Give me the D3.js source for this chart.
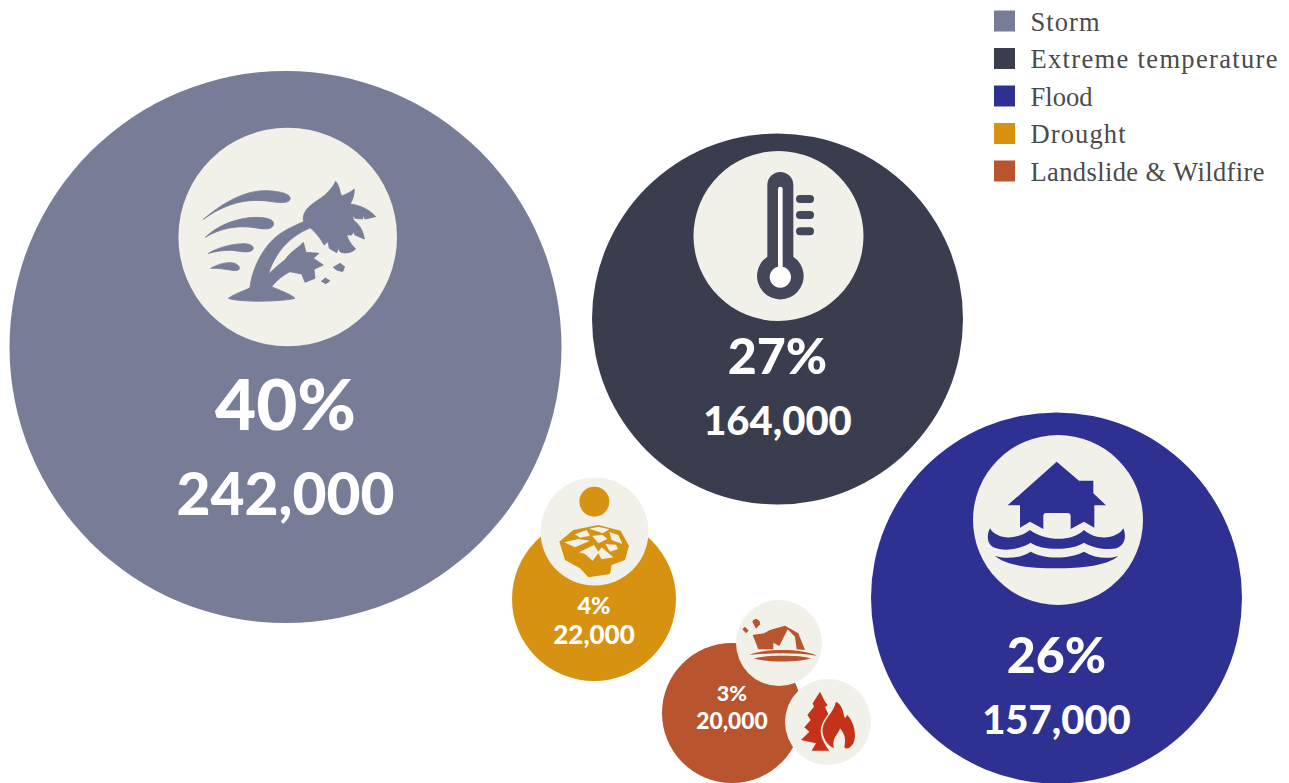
<!DOCTYPE html>
<html><head><meta charset="utf-8">
<script src="https://cdn.jsdelivr.net/npm/d3@7"></script>
<style>html,body{margin:0;background:#fff}svg{display:block}</style></head>
<body><svg id="c" width="1289" height="783"></svg>
<script>
const categories=["Storm","Extreme temperature","Flood","Drought","Landslide & Wildfire"];
const percents=[40,27,26,4,3];
const deaths=[242000,164000,157000,22000,20000];
const colours=["#787d97","#3a3d4e","#2e3092","#d69210","#b8552f"];
const cream="#f1f0e9";

// Layout scales: value to radius, category to centre
const rScale=d3.scaleLinear().domain([20000,22000,157000,164000,242000]).range([70,82,185.5,185.5,276]);
const xScale=d3.scaleOrdinal(categories,[285.5,777.5,1056.5,594,732]);
const yScale=d3.scaleOrdinal(categories,[347,319,598,599,713]);
const colour=d3.scaleOrdinal(categories,colours);
const legendY=d3.scalePoint(categories,[21.5,171.5]);
const legendW=d3.scaleOrdinal(categories,[69,247,62,95,234]);

const pctFont=d3.scaleOrdinal(categories,[71,50,50,23.5,21.5]);
const valFont=d3.scaleOrdinal(categories,[58.7,40,40,26,22.8]);
const pctY=d3.scaleOrdinal(categories,[430,374,673,614,701]);
const valY=d3.scaleOrdinal(categories,[515,435,734,644,729]);
const txtFamily="Lato, 'Open Sans', sans-serif";

const svg=d3.select("#c");
const rows=categories.map((c,i)=>({c,p:percents[i],v:deaths[i]}));

svg.append("g").selectAll("circle").data(rows).join("circle")
  .attr("cx",d=>xScale(d.c)).attr("cy",d=>yScale(d.c)).attr("r",d=>rScale(d.v))
  .attr("fill",d=>colour(d.c));

// Icon badges
const badges=[
 {cx:287.7,cy:237,r:109.3,ox:170,oy:120,fill:colours[0],stroke:2.5,paths:[
  "M100,298C150,255 220,210 290,212C340,214 365,225 360,238C355,252 325,248 290,243C220,235 160,255 100,298Z",
  "M106,352C140,318 200,292 260,292C295,293 315,300 310,315C305,330 280,328 255,323C200,315 150,325 106,352Z",
  "M115,400C145,382 190,370 225,371C250,373 255,385 245,392C230,400 205,393 185,391C160,390 135,395 115,400Z",
  "M122,445C145,432 170,425 190,429C208,434 212,445 205,450C190,456 170,444 122,445Z",
  "M175,535C195,520 225,512 240,503C245,450 280,370 340,335C365,320 390,310 405,303L418,325C370,345 320,385 295,462C315,445 330,430 345,420C360,395 385,385 400,367L408,397L447,400L430,415L460,435L432,448L435,475L405,487L395,462L360,455C340,465 320,480 305,500C325,510 360,520 375,535C340,545 210,548 175,535Z",
  "M400,290C405,260 440,245 465,225C480,210 490,200 497,184C510,200 508,215 515,228C530,222 545,215 553,207C553,225 548,240 540,252C570,255 600,270 617,290L585,297L580,285L578,297L555,295L548,285L550,300C570,315 580,335 583,357L555,345L550,335L545,345L530,345C535,362 545,375 557,387C545,398 525,403 510,395L505,385L500,398L478,385L474,365L462,375C450,350 430,330 410,315C402,310 398,300 400,290Z",
  "M510,430L524,440L518,455L500,450L490,442Z","M466,474L480,482L468,491L454,484Z"]},
 {cx:778.5,cy:236,r:85,ox:690,oy:140,fill:"#44475a",paths:[
  "M232,135A39,39 0 0 1 310,135V350A70,70 0 1 1 232,350Z",
  "M330,165H360A12,12 0 0 1 360,189H330A12,12 0 0 1 330,165Z",
  "M330,213H360A12,12 0 0 1 360,237H330A12,12 0 0 1 330,213Z",
  "M330,262H360A12,12 0 0 1 360,286H330A12,12 0 0 1 330,262Z"],
  white:["M264,147A7,7 0 0 1 278,147V380A32,32 0 1 1 264,380Z"]},
 {cx:1058,cy:520,r:85,ox:960,oy:440,fill:colours[2],paths:[
  "M290,65L357,122H400V160L438,196H403V263L372,245L332,267V228Q332,219 322,219H258Q250,219 250,228V267L210,245L180,263V196H143Z",
  "M90,265C105,295 165,305 210,270C250,300 330,310 372,270C410,305 475,295 490,265C500,290 495,315 470,325C440,330 400,325 372,308C340,330 250,335 212,308C175,330 130,335 100,322C80,310 80,285 90,265Z",
  "M105,348C140,358 180,355 212,335C250,358 330,358 372,335C405,355 445,358 475,348C440,378 360,385 290,385C220,385 140,378 105,348Z"]},
 {cx:594.5,cy:531.5,r:54,ox:530,oy:470,fill:colours[3],paths:[
  "M148,95A45,45 0 1 1 238,95A45,45 0 1 1 148,95Z",
  "M88,215L130,180L205,165L272,182L297,228L285,270L245,285L240,312L175,322L150,295L105,270Z"],
  cracks:["M135,193L170,180L180,197L150,203Z","M178,176L205,170L238,178L218,190Z","M238,186L265,195L277,222L245,210Z","M186,197L218,195L232,207L205,220Z","M103,217L145,207L180,212L135,232Z","M147,247L192,225L205,245L215,232L250,262L215,268L205,250L188,272L165,252Z","M226,222L258,224L264,237L240,245Z"]},
 {cx:779,cy:643,r:43,ox:690,oy:590,fill:colours[4],paths:[
  "M187,95Q190,85 200,87Q212,92 210,103L198,116Z","M157,118L165,110L176,122L168,130Z",
  "M188,135L222,130L240,120L285,107L325,130L345,180L320,178L315,140L293,118L268,168L250,158L250,178L205,178Z",
  "M178,195C220,175 340,175 380,197C320,188 240,188 178,195Z",
  "M192,205C230,195 330,195 362,205C330,218 225,218 192,205Z"]},
 {cx:828,cy:722,r:43,ox:690,oy:590,fill:"#c4321a",paths:[
  "M390,305L405,335L413,345L405,352L415,372C405,385 395,400 392,420C392,445 405,465 418,482H365L378,460L333,450L358,425L343,412L362,390L352,375L372,350L368,340Z",
  "M438,335C460,345 460,375 465,385L472,375C495,400 500,440 490,460C480,475 470,480 463,472C470,440 460,430 450,415C445,435 425,440 432,475C410,465 395,440 398,415C402,385 430,370 438,335Z"]}
];
const b=svg.append("g").selectAll("g").data(badges).join("g");
b.append("circle").attr("cx",d=>d.cx).attr("cy",d=>d.cy).attr("r",d=>d.r).attr("fill",cream);
const ic=b.append("g").attr("transform",d=>`translate(${d.ox},${d.oy}) scale(${1/3})`);
ic.each(function(d){
  const g=d3.select(this);
  d.paths.forEach(p=>g.append("path").attr("d",p).attr("fill",d.fill)
    .attr("stroke",d.stroke?d.fill:"none").attr("stroke-width",d.stroke||0).attr("stroke-linejoin","round"));
  (d.white||[]).forEach(p=>g.append("path").attr("d",p).attr("fill","#fff"));
  (d.cracks||[]).forEach(p=>g.append("path").attr("d",p).attr("fill",cream));
});

// Labels
const fmt=d3.format(",");
const lab=svg.append("g").attr("fill","#fff").attr("text-anchor","middle").attr("font-family",txtFamily).attr("font-weight",900);
lab.selectAll("text.p").data(rows).join("text").attr("class","p")
  .attr("x",d=>xScale(d.c)).attr("y",d=>pctY(d.c)).attr("font-size",d=>pctFont(d.c)).text(d=>d.p+"%");
lab.selectAll("text.v").data(rows).join("text").attr("class","v")
  .attr("x",d=>xScale(d.c)).attr("y",d=>valY(d.c)).attr("font-size",d=>valFont(d.c)).text(d=>fmt(d.v));

// Legend
const lg=svg.append("g").selectAll("g").data(categories).join("g")
  .attr("transform",c=>`translate(0,${legendY(c)})`);
lg.append("rect").attr("x",994).attr("y",-11).attr("width",21).attr("height",21).attr("fill",c=>colour(c));
lg.append("text").attr("x",1030.5).attr("y",9).attr("fill","#4a4a4a").attr("font-size",26.5)
  .attr("textLength",c=>legendW(c)).attr("lengthAdjust","spacing")
  .attr("font-family","'Liberation Serif',serif").text(c=>c);
</script></body></html>
